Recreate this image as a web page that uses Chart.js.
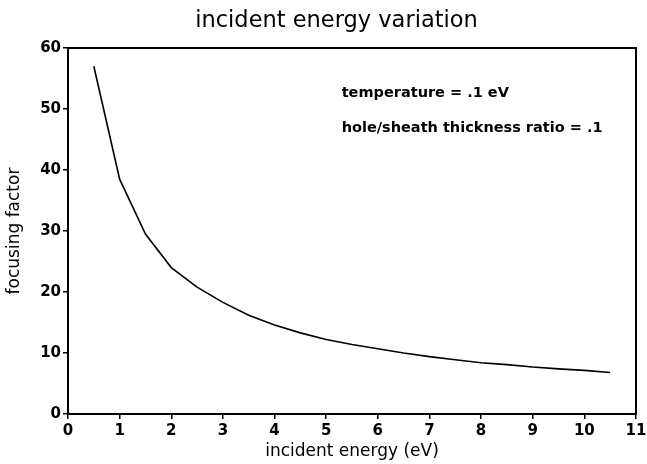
<!DOCTYPE html>
<html>
<head>
<meta charset="utf-8">
<script src="https://cdn.jsdelivr.net/npm/chart.js@4/dist/chart.umd.min.js"></script>
<style>
  html, body { margin: 0; padding: 0; background: #fff; }
  #wrap { width: 647px; height: 464px; position: relative; }
</style>
</head>
<body>
<div id="wrap"><canvas id="c"></canvas></div>
<script>
// incident energy (eV) vs focusing factor
const energy = [0.5, 1, 1.5, 2, 2.5, 3, 3.5, 4, 4.5, 5, 5.5, 6, 6.5, 7, 7.5, 8, 8.5, 9, 9.5, 10, 10.5];
const focusing = [57, 38.5, 29.5, 24, 20.8, 18.3, 16.2, 14.6, 13.3, 12.2, 11.4, 10.7, 10.0, 9.4, 8.9, 8.4, 8.1, 7.7, 7.4, 7.15, 6.8];
const xTicks = [0, 1, 2, 3, 4, 5, 6, 7, 8, 9, 10, 11];
const yTicks = [0, 10, 20, 30, 40, 50, 60];
const notes = [
  { x: 5.3, y: 52.6, text: "temperature = .1 eV" },
  { x: 5.3, y: 46.9, text: "hole/sheath thickness ratio = .1" },
];
const TITLE = "incident energy variation";

const FONT = "'DejaVu Sans', Arial, sans-serif";

// frame round the plot area, the title (centred a bit left of the plot) and the notes
const framePlugin = {
  id: "frame",
  afterDatasetsDraw(chart) {
    const { ctx, chartArea: ca, scales: { x, y } } = chart;
    ctx.save();
    ctx.strokeStyle = "#000";
    ctx.lineWidth = 2;
    ctx.strokeRect(ca.left, ca.top, ca.right - ca.left, ca.bottom - ca.top);
    ctx.fillStyle = "#000";
    ctx.textBaseline = "middle";
    ctx.font = "bold 14.5px " + FONT;
    notes.forEach(n => ctx.fillText(n.text, x.getPixelForValue(n.x), y.getPixelForValue(n.y)));
    ctx.font = "22.5px " + FONT;
    ctx.textAlign = "center";
    ctx.fillText(TITLE, x.getPixelForValue(5.2), ca.top - 27);
    ctx.restore();
  },
};

new Chart(document.getElementById("c"), {
  type: "scatter",
  data: {
    datasets: [{
      data: energy.map((e, i) => ({ x: e, y: focusing[i] })),
      showLine: true, borderColor: "#000", borderWidth: 1.6,
      pointRadius: 0, tension: 0, fill: false,
    }],
  },
  options: {
    responsive: true, maintainAspectRatio: false, animation: false,
    layout: { padding: { left: 4, right: 11, top: 48, bottom: 2 } },
    plugins: {
      legend: { display: false },
      tooltip: { enabled: false },
      title: { display: false },
    },
    scales: {
      x: {
        type: "linear", min: 0, max: 11,
        afterBuildTicks: s => { s.ticks = xTicks.map(v => ({ value: v })); },
        grid: { display: true, drawOnChartArea: false, tickLength: 5, color: "#000", lineWidth: 1.5 },
        border: { display: true, color: "#000", width: 2 },
        ticks: { color: "#000", font: { family: FONT, size: 15, weight: "bold" }, padding: 3, maxRotation: 0 },
        title: { display: true, text: "incident energy (eV)", color: "#000",
          font: { family: FONT, size: 17 }, padding: { top: 0, bottom: 0 } },
        afterFit: s => { s.height = 48; s.paddingRight = 0; s.paddingLeft = 0; },
      },
      y: {
        min: 0, max: 60,
        afterBuildTicks: s => { s.ticks = yTicks.map(v => ({ value: v })); },
        grid: { display: true, drawOnChartArea: false, tickLength: 5, color: "#000", lineWidth: 1.5 },
        border: { display: true, color: "#000", width: 2 },
        ticks: { color: "#000", font: { family: FONT, size: 15, weight: "bold" }, padding: 2 },
        title: { display: true, text: "focusing factor", color: "#000",
          font: { family: FONT, size: 17 }, padding: { top: 0, bottom: 3 } },
        afterFit: s => { s.width = 64; },
      },
    },
  },
  plugins: [framePlugin],
});
</script>
</body>
</html>
